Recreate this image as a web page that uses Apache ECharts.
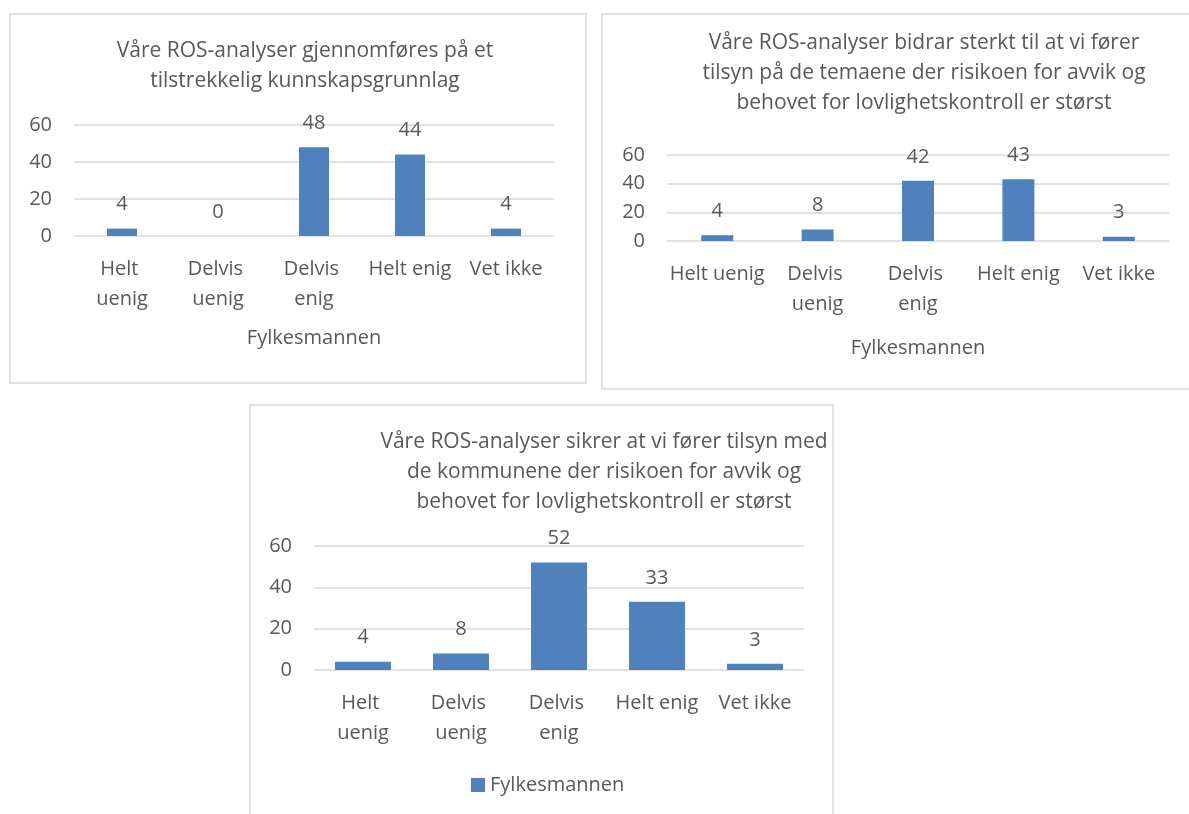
<!DOCTYPE html>
<html>
<head>
<meta charset="utf-8">
<script src="https://cdn.jsdelivr.net/npm/echarts@6/dist/echarts.min.js"></script>
<style>
html,body{margin:0;padding:0;background:#fff;}
#c{width:1189px;height:814px;}
</style>
</head>
<body>
<div id="c"></div>
<script>
const categories = ['Helt uenig', 'Delvis uenig', 'Delvis enig', 'Helt enig', 'Vet ikke'];
const seriesName = 'Fylkesmannen';
const values1 = [4, 0, 48, 44, 4];
const values2 = [4, 8, 42, 43, 3];
const values3 = [4, 8, 52, 33, 3];
const title1 = 'Våre ROS-analyser gjennomføres på et\ntilstrekkelig kunnskapsgrunnlag';
const title2 = 'Våre ROS-analyser bidrar sterkt til at vi fører\ntilsyn på de temaene der risikoen for avvik og\nbehovet for lovlighetskontroll er størst';
const title3 = 'Våre ROS-analyser sikrer at vi fører tilsyn med\nde kommunene der risikoen for avvik og\nbehovet for lovlighetskontroll er størst';
const yTicks = [0, 20, 40, 60];

const FONT = 'Open Sans';
const TXT = '#595959';
const BAR = '#4F81BD';
const GRID = '#D9D9D9';

const panels = [
  {grid:{left:74, top:125, width:480, height:111}, values:values1, title:title1, tx:300, ty:31, barWidth:30, labW:90, axisName:true, nameGap:92},
  {grid:{left:667, top:155, width:502, height:86}, values:values2, title:title2, tx:919, ty:23, barWidth:32, labW:98, axisName:true, nameGap:97},
  {grid:{left:314, top:546, width:490, height:124}, values:values3, title:title3, tx:599, ty:422, barWidth:56, labW:90, axisName:false, nameGap:0}
];

const option = {
  animation:false,
  textStyle:{fontFamily:FONT},
  title: panels.map(p => ({
    text:p.title, left:p.tx, top:p.ty, textAlign:'center',
    textStyle:{fontFamily:FONT, fontSize:21, fontWeight:'normal', color:TXT, lineHeight:30}
  })),
  graphic:[
    {type:'rect', shape:{x:10, y:14, width:576, height:369}, style:{fill:'none', stroke:GRID, lineWidth:1.5}, silent:true, z:-1},
    {type:'rect', shape:{x:602, y:14, width:600, height:375}, style:{fill:'none', stroke:GRID, lineWidth:1.5}, silent:true, z:-1},
    {type:'rect', shape:{x:250, y:405, width:583, height:420}, style:{fill:'none', stroke:GRID, lineWidth:1.5}, silent:true, z:-1}
  ],
  legend:{
    data:[seriesName], left:466, top:770, icon:'rect', itemWidth:14, itemHeight:14, itemGap:8,
    textStyle:{fontFamily:FONT, fontSize:20, color:TXT}
  },
  grid: panels.map(p => Object.assign({containLabel:false}, p.grid)),
  xAxis: panels.map((p,i) => ({
    type:'category', gridIndex:i, data:categories,
    axisLine:{show:false}, axisTick:{show:false},
    axisLabel:{fontFamily:FONT, fontSize:20, color:TXT, lineHeight:30, margin:18, interval:0,
      width:p.labW, overflow:'break'},
    name:p.axisName ? seriesName : '', nameLocation:'middle', nameGap:p.nameGap,
    nameTextStyle:{fontFamily:FONT, fontSize:20, color:TXT}
  })),
  yAxis: panels.map((p,i) => ({
    type:'value', gridIndex:i, min:yTicks[0], max:yTicks[yTicks.length-1], interval:yTicks[1]-yTicks[0],
    axisLine:{show:false}, axisTick:{show:false},
    axisLabel:{fontFamily:FONT, fontSize:20, color:TXT, margin:22},
    splitLine:{lineStyle:{color:GRID, width:1.5}}
  })),
  series: panels.map((p,i) => ({
    name:seriesName, type:'bar', xAxisIndex:i, yAxisIndex:i, data:p.values, barWidth:p.barWidth,
    itemStyle:{color:BAR},
    label:{show:true, position:'top', distance:14, fontFamily:FONT, fontSize:20, color:TXT}
  }))
};
const chart = echarts.init(document.getElementById('c'), null, {renderer:'canvas'});
chart.setOption(option);
</script>
</body>
</html>
